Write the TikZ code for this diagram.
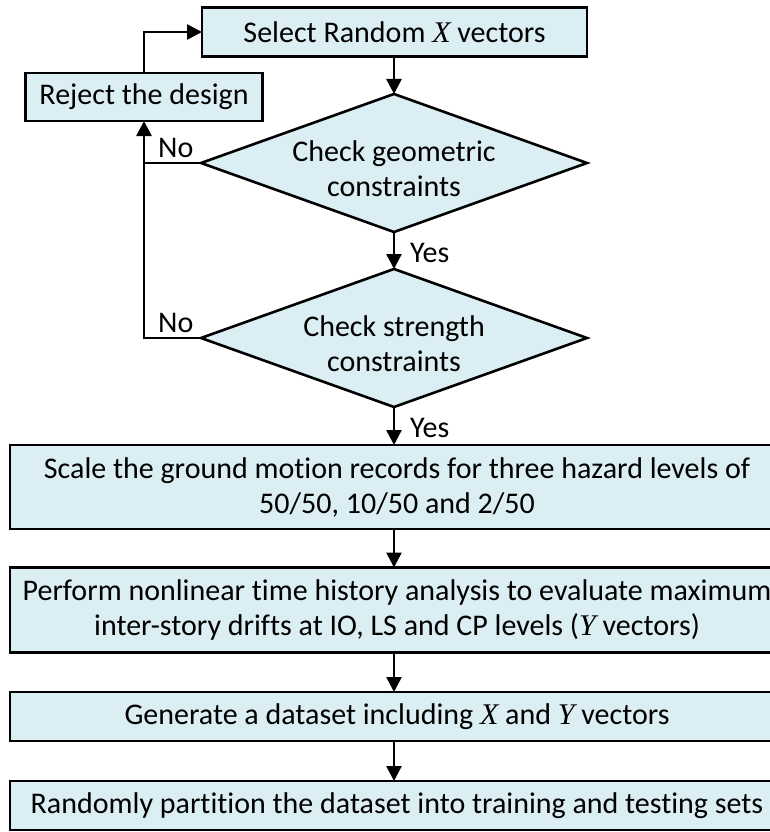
\documentclass[tikz,border=0pt]{standalone}
\usepackage{fontspec}
\setmainfont{Carlito}[Ligatures={NoCommon}]
\newfontfamily\varfont{Liberation Serif}
\usetikzlibrary{shapes.geometric,arrows.meta}
\definecolor{boxfill}{HTML}{DAEEF3}
\newcommand{\vX}{{\varfont\itshape X}}
\newcommand{\vY}{{\varfont\itshape Y}}
\tikzset{
  every node/.style={font=\fontsize{30}{35}\selectfont, align=center},
  procbox/.style={draw=black, line width=2.6pt, fill=boxfill, rectangle, inner sep=0pt, outer sep=0pt},
  decbox/.style={draw=black, line width=2.6pt, fill=boxfill, diamond, inner sep=0pt, outer sep=0pt},
  arr/.style={line width=2.6pt, -{Triangle[width=15pt,length=15pt]}},
  plain/.style={line width=2.6pt},
  lbl/.style={inner sep=0pt, anchor=west}
}
\begin{document}
\begin{tikzpicture}[x=1pt,y=-1pt]
\useasboundingbox (0,0) rectangle (770,832);
\clip (0,0) rectangle (770,832);
\node[procbox, minimum width=385, minimum height=49] (top) at (394.5,32) {Select Random \vX{} vectors};
\node[procbox, minimum width=237, minimum height=48] (reject) at (144,97) {Reject the design};
\node[decbox, minimum width=386, minimum height=138] (d1) at (394,163) {};
\node (t1) at (394,169) {Check geometric\\constraints};
\node[decbox, minimum width=386, minimum height=138] (d2) at (394,338) {};
\node (t2) at (394,344) {Check strength\\constraints};
\node[procbox, minimum width=774, minimum height=84] (s) at (397,487) {Scale the ground motion records for three hazard levels of\\50/50, 10/50 and 2/50};
\node[procbox, minimum width=774, minimum height=85] (p) at (397,610) {Perform nonlinear time history analysis to evaluate maximum\\inter-story drifts at IO, LS and CP levels (\vY{} vectors)};
\node[procbox, minimum width=774, minimum height=49] (g) at (397,716.5) {Generate a dataset including \vX{} and \vY{} vectors};
\node[procbox, minimum width=774, minimum height=49] (r) at (397,805.5) {Randomly partition the dataset into training and testing sets};
\draw[arr] (reject.north) |- (top.west);
\draw[arr] (top.south -| d1.north) -- (d1.north);
\draw[arr] (d1.south) -- (d2.north);
\draw[arr] (d2.south) -- (d2.south |- s.north);
\draw[arr] (d2.south |- s.south) -- (d2.south |- p.north);
\draw[arr] (d2.south |- p.south) -- (d2.south |- g.north);
\draw[arr] (d2.south |- g.south) -- (d2.south |- r.north);
\draw[plain] (d1.west) -- (d1.west -| reject.south);
\draw[arr] (d2.west) -- (d2.west -| reject.south) -- (reject.south);
\node[lbl] (no1) at (158,148) {No};
\node[lbl] (no2) at (158,323) {No};
\node[lbl] (yes1) at (410,253) {Yes};
\node[lbl] (yes2) at (410,428) {Yes};
\end{tikzpicture}
\end{document}
